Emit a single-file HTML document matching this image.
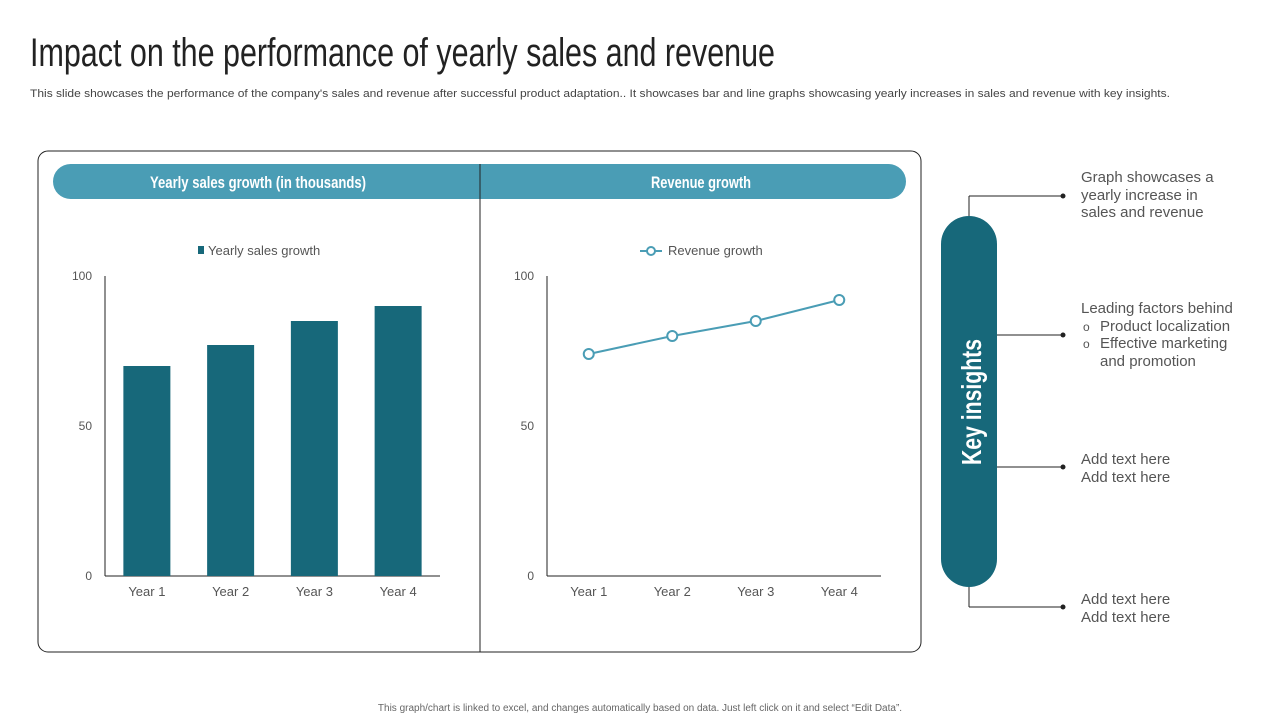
<!DOCTYPE html>
<html><head><meta charset="utf-8"><style>
body{margin:0;background:#fff;}
svg text{font-family:"Liberation Sans",sans-serif;}
</style></head><body>
<svg width="1280" height="720" viewBox="0 0 1280 720" xmlns="http://www.w3.org/2000/svg">
<text x="30" y="66" font-size="40" fill="#222" textLength="745" lengthAdjust="spacingAndGlyphs">Impact on the performance of yearly sales and revenue</text>
<text x="30" y="97" font-size="11" fill="#444" textLength="1140" lengthAdjust="spacingAndGlyphs">This slide showcases the performance of the company's sales and revenue after successful product adaptation.. It showcases bar and line graphs showcasing yearly increases in sales and revenue with key insights.</text>
<rect x="38" y="151" width="883" height="501" rx="10" fill="none" stroke="#222" stroke-width="1"/>
<rect x="53" y="164" width="853" height="35" rx="17.5" fill="#4a9db5"/>
<line x1="480" y1="164" x2="480" y2="652" stroke="#222" stroke-width="1"/>
<text x="258" y="188" font-size="17" fill="#fff" text-anchor="middle" textLength="216" lengthAdjust="spacingAndGlyphs" font-weight="bold">Yearly sales growth (in thousands)</text>
<text x="701" y="188" font-size="17" fill="#fff" text-anchor="middle" textLength="100" lengthAdjust="spacingAndGlyphs" font-weight="bold">Revenue growth</text>
<rect x="198" y="246" width="6" height="8" fill="#17687a"/>
<text x="208" y="255" font-size="13" fill="#555">Yearly sales growth</text>
<line x1="640" y1="251" x2="662" y2="251" stroke="#4a9db5" stroke-width="2"/>
<circle cx="651" cy="251" r="4" fill="#fff" stroke="#4a9db5" stroke-width="2"/>
<text x="668" y="255" font-size="13" fill="#555">Revenue growth</text>
<g id="bar-chart"></g>
<g id="line-chart"></g>
<line x1="969" y1="218" x2="969" y2="196" stroke="#222"/>
<line x1="969" y1="196" x2="1063" y2="196" stroke="#222"/>
<circle cx="1063" cy="196" r="2.5" fill="#222"/>
<line x1="997" y1="335" x2="1063" y2="335" stroke="#222"/>
<circle cx="1063" cy="335" r="2.5" fill="#222"/>
<line x1="997" y1="467" x2="1063" y2="467" stroke="#222"/>
<circle cx="1063" cy="467" r="2.5" fill="#222"/>
<line x1="969" y1="585" x2="969" y2="607" stroke="#222"/>
<line x1="969" y1="607" x2="1063" y2="607" stroke="#222"/>
<circle cx="1063" cy="607" r="2.5" fill="#222"/>
<rect x="941" y="216" width="56" height="371" rx="28" fill="#17687a"/>
<text transform="translate(981,402) rotate(-90)" font-size="28" font-weight="bold" fill="#fff" text-anchor="middle" textLength="126" lengthAdjust="spacingAndGlyphs">Key insights</text>
<g font-size="15" fill="#555">
<text x="1081" y="182">Graph showcases a</text>
<text x="1081" y="200">yearly increase in</text>
<text x="1081" y="217">sales and revenue</text>
<text x="1081" y="313">Leading factors behind</text>
<text x="1083" y="331" font-size="12">o</text><text x="1100" y="331">Product localization</text>
<text x="1083" y="348" font-size="12">o</text><text x="1100" y="348">Effective marketing</text>
<text x="1100" y="366">and promotion</text>
<text x="1081" y="464">Add text here</text>
<text x="1081" y="482">Add text here</text>
<text x="1081" y="604">Add text here</text>
<text x="1081" y="622">Add text here</text>
</g>
<text x="640" y="711" font-size="10" fill="#666" text-anchor="middle">This graph/chart is linked to excel, and changes automatically based on data. Just left click on it and select “Edit Data”.</text>
</svg>
<script>
const categories=["Year 1","Year 2","Year 3","Year 4"];
const salesValues=[70,77,85,90];
const revenueValues=[74,80,85,92];
const yTicks=[0,50,100];
const NS="http://www.w3.org/2000/svg";
function mk(tag,attrs,parent,txt){const e=document.createElementNS(NS,tag);for(const k in attrs)e.setAttribute(k,attrs[k]);if(txt!==undefined)e.textContent=txt;parent.appendChild(e);return e;}
function draw(gId,x0,x1,kind,vals){
  const g=document.getElementById(gId);
  const yTop=276,yBot=576;
  const y=v=>yBot-(v/100)*(yBot-yTop);
  const step=(x1-x0)/categories.length;
  const x=i=>x0+step*(i+0.5);
  const ax=mk('line',{x1:x0,y1:yTop,x2:x0,y2:yBot,stroke:'#222'},g);
  
  
  const bx=mk('line',{x1:x0,y1:yBot,x2:x1,y2:yBot,stroke:'#222'},g);
  
  
  yTicks.forEach(t=>{const tl=mk('text',{x:x0-13,y:y(t)+4,'font-size':12,fill:'#555','text-anchor':'end'},g,String(t));
    
    });
  categories.forEach((c,i)=>{const cl=mk('text',{x:x(i),y:yBot+20,'font-size':13,fill:'#555','text-anchor':'middle'},g,c);
    
    });
  if(kind==='bar'){
    vals.forEach((v,i)=>{const b=mk('rect',{x:x(i)-23.5,y:y(v),width:47,height:yBot-y(v),fill:'#17687a'},g);
      
      });
  }else{
    const p=mk('polyline',{points:vals.map((v,i)=>x(i)+','+y(v)).join(' '),fill:'none',stroke:'#4a9db5','stroke-width':2},g);
    
    
    vals.forEach((v,i)=>{const c=mk('circle',{cx:x(i),cy:y(v),r:5,fill:'#fff',stroke:'#4a9db5','stroke-width':2},g);
      
      });
  }
}
draw('bar-chart',105,440,'bar',salesValues);
draw('line-chart',547,881,'line',revenueValues);
</script>
</body></html>
